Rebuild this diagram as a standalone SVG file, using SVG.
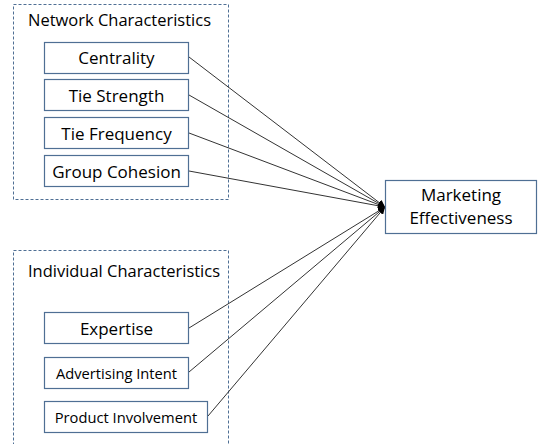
<svg xmlns="http://www.w3.org/2000/svg" width="538" height="444" viewBox="0 0 538 444">
<style>
.grp{fill:none;stroke:#4f6f94;stroke-width:1;stroke-dasharray:3,2}
.box{fill:#fff;stroke:#4f6f94;stroke-width:1.2}
.t{font-family:"Open Sans","Liberation Sans",sans-serif;font-size:17px;fill:#000;text-anchor:middle}
.s{font-size:14.7px}
.h{font-family:"Open Sans","Liberation Sans",sans-serif;font-size:16.5px;fill:#000}
.c{stroke:#333;stroke-width:1;fill:none;marker-end:url(#ah)}
</style>
<defs>
<marker id="ah" viewBox="0 0 10 10" refX="10" refY="5" markerWidth="7" markerHeight="7" orient="auto" markerUnits="userSpaceOnUse">
<path d="M0,0 L10,5 L0,10 z" fill="#000"/>
</marker>
</defs>
<rect width="538" height="444" fill="#fff"/>
<g id="network-group">
<rect class="grp" x="13.5" y="4.5" width="215" height="195"/>
<text class="h" x="28" y="26" textLength="183" lengthAdjust="spacingAndGlyphs">Network Characteristics</text>
</g>
<g id="individual-group">
<rect class="grp" x="13.5" y="250.5" width="215" height="200"/>
<text class="h" x="28" y="277" textLength="192" lengthAdjust="spacingAndGlyphs">Individual Characteristics</text>
</g>
<g id="connectors">
<line class="c" x1="189" y1="57" x2="385" y2="207"/>
<line class="c" x1="189" y1="95" x2="385" y2="207"/>
<line class="c" x1="189" y1="133" x2="385" y2="207"/>
<line class="c" x1="189" y1="171" x2="385" y2="207"/>
<line class="c" x1="189" y1="328" x2="385" y2="207"/>
<line class="c" x1="189" y1="372" x2="385" y2="207"/>
<line class="c" x1="208" y1="416" x2="385" y2="207"/>
</g>
<g id="centrality"><rect class="box" x="44.5" y="42.5" width="144" height="31"/><text class="t" x="116.5" y="64">Centrality</text></g>
<g id="tie-strength"><rect class="box" x="44.5" y="79.5" width="144" height="31"/><text class="t" x="116.5" y="101.5">Tie Strength</text></g>
<g id="tie-frequency"><rect class="box" x="44.5" y="117.5" width="144" height="31"/><text class="t" x="116.5" y="139.5">Tie Frequency</text></g>
<g id="group-cohesion"><rect class="box" x="44.5" y="155.5" width="144" height="31"/><text class="t" x="116.5" y="177.5">Group Cohesion</text></g>
<g id="expertise"><rect class="box" x="44.5" y="312.5" width="144" height="31"/><text class="t" x="116.5" y="334.5">Expertise</text></g>
<g id="advertising-intent"><rect class="box" x="44.5" y="357.5" width="144" height="31"/><text class="t s" x="116.5" y="378.5">Advertising Intent</text></g>
<g id="product-involvement"><rect class="box" x="44.5" y="401.5" width="163" height="31"/><text class="t s" x="126" y="422.5">Product Involvement</text></g>
<g id="marketing-effectiveness"><rect class="box" x="385.5" y="180.5" width="151" height="53"/><text class="t" x="461" y="201">Marketing</text><text class="t" x="461" y="224">Effectiveness</text></g>
</svg>
